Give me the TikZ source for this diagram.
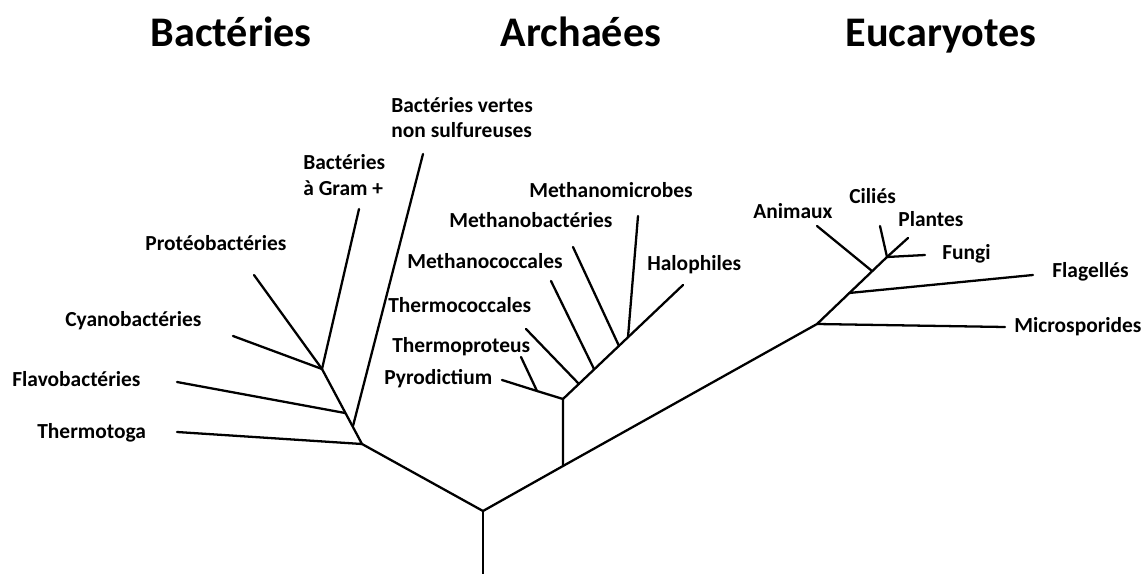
\documentclass[tikz,border=0pt]{standalone}
\usepackage{fontspec}
\setmainfont{Carlito}
\usetikzlibrary{positioning}

\begin{document}
\begin{tikzpicture}[
  x=0.02cm, y=-0.02cm,
  branch/.style={draw=black, line width=1.3pt, line cap=round, line join=round},
  taxon/.style={font=\bfseries\fontsize{12.2}{14.5}\selectfont, inner sep=0pt, anchor=base west, align=left},
  realm/.style={font=\bfseries\fontsize{24}{28}\selectfont, inner sep=0pt, anchor=base}
]
\useasboundingbox (0,0) rectangle (1142,574);
% domains
\node[realm] (t_bac) at (231,47) {Bactéries};
\node[realm] (t_arc) at (581,47) {Archaées};
\node[realm] (t_euc) at (941,47) {Eucaryotes};
% trunk
\coordinate (root_bot) at (483,574);
\coordinate (root) at (483,511);
\coordinate (bac) at (362,444);
\coordinate (arc0) at (563,466);
\coordinate (euc) at (817,324);
\draw[branch] (root_bot) -- (root);
\draw[branch] (root) -- (bac);
\draw[branch] (root) -- (arc0) -- (euc);
% bacteria
\coordinate (thermotoga) at (177,432);
\coordinate (green_b) at (353,426);
\coordinate (green) at (423,154);
\coordinate (flavo_b) at (345,413);
\coordinate (flavo) at (177,382);
\coordinate (bac_j) at (322,369);
\coordinate (gram) at (359,209);
\coordinate (proteo) at (254,275);
\coordinate (cyano) at (233,336);
\draw[branch] (thermotoga) -- (bac) -- (bac_j);
\draw[branch] (green_b) -- (green);
\draw[branch] (flavo_b) -- (flavo);
\draw[branch] (bac_j) -- (gram);
\draw[branch] (bac_j) -- (proteo);
\draw[branch] (bac_j) -- (cyano);
\node[taxon] (l_thermotoga) at (37,438) {Thermotoga};
\node[taxon] (l_flavo) at (12,386) {Flavobactéries};
\node[taxon] (l_cyano) at (65,326) {Cyanobactéries};
\node[taxon] (l_proteo) at (145,251) {Protéobactéries};
\node[taxon] (l_gram) at (303,195) {Bactéries\\à Gram +};
\node[taxon] (l_green) at (391,138) {Bactéries vertes\\non sulfureuses};
% archaea
\coordinate (arc1) at (563,399);
\coordinate (pt_j) at (537,391);
\coordinate (pyro) at (502,380);
\coordinate (tprot) at (521,357);
\coordinate (tcoc_b) at (579,384);
\coordinate (tcoc) at (526,329);
\coordinate (mcoc_b) at (594,369);
\coordinate (mcoc) at (551,281);
\coordinate (mbac_b) at (619,346);
\coordinate (mbac) at (573,247);
\coordinate (mmic_b) at (628,337);
\coordinate (mmic) at (638,216);
\coordinate (halo) at (683,285);
\draw[branch] (arc0) -- (arc1) -- (halo);
\draw[branch] (arc1) -- (pt_j) -- (pyro);
\draw[branch] (pt_j) -- (tprot);
\draw[branch] (tcoc_b) -- (tcoc);
\draw[branch] (mcoc_b) -- (mcoc);
\draw[branch] (mbac_b) -- (mbac);
\draw[branch] (mmic_b) -- (mmic);
\node[taxon] (l_pyro) at (384,384) {Pyrodictium};
\node[taxon] (l_tprot) at (392,352) {Thermoproteus};
\node[taxon] (l_tcoc) at (388,312) {Thermococcales};
\node[taxon] (l_mcoc) at (407,268) {Methanococcales};
\node[taxon] (l_mbac) at (449,228) {Methanobactéries};
\node[taxon] (l_mmic) at (529,197) {Methanomicrobes};
\node[taxon] (l_halo) at (647,270) {Halophiles};
% eukaryotes
\coordinate (micro) at (1005,327);
\coordinate (flag_b) at (849,293);
\coordinate (flag) at (1033,275);
\coordinate (anim_b) at (872,271);
\coordinate (anim) at (817,226);
\coordinate (euc_j) at (887,257);
\coordinate (cilie) at (880,226);
\coordinate (plant) at (908,238);
\coordinate (fungi) at (925,255);
\draw[branch] (micro) -- (euc) -- (euc_j);
\draw[branch] (flag_b) -- (flag);
\draw[branch] (anim_b) -- (anim);
\draw[branch] (euc_j) -- (cilie);
\draw[branch] (euc_j) -- (plant);
\draw[branch] (euc_j) -- (fungi);
\node[taxon] (l_anim) at (753,218) {Animaux};
\node[taxon] (l_cilie) at (849,204) {Ciliés};
\node[taxon] (l_plant) at (898,227) {Plantes};
\node[taxon] (l_fungi) at (942,259) {Fungi};
\node[taxon] (l_flag) at (1052,277) {Flagellés};
\node[taxon] (l_micro) at (1014,332) {Microsporides};
\end{tikzpicture}
\end{document}
